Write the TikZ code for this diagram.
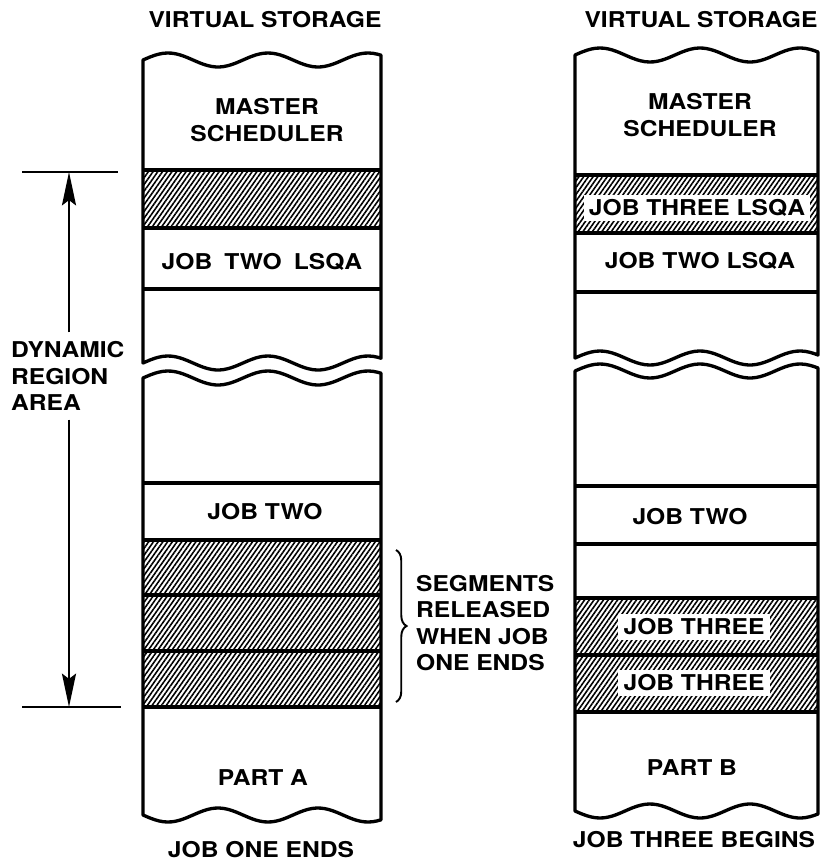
\documentclass[tikz,border=0pt]{standalone}
\usepackage{fontspec}
\newfontfamily\vsfont[FakeStretch=1.13]{TeX Gyre Heros}
\usepackage{tikz}
\usetikzlibrary{arrows.meta,patterns.meta,decorations.pathreplacing,positioning}
\tikzset{
    vslabel/.style={font=\vsfont\bfseries\fontsize{12.4}{15}\selectfont, inner sep=1pt},
    whitelabel/.style={vslabel, fill=white, inner xsep=3pt, inner ysep=2.5pt},
    hatch/.style={pattern={Lines[angle=55, distance=2.2pt, line width=0.9pt]}},
    wall/.style={line width=1.9pt, line join=round},
    sepline/.style={line width=1.9pt},
    dimline/.style={line width=1.6pt},
    dimarrow/.style={line width=1.2pt, -{Stealth[length=19pt, width=8pt, inset=3pt]}},
    bracket/.style={line width=1.1pt, decorate, decoration={brace, amplitude=6pt}},
}
% one piece of a storage column: x1, x2, top y, bottom y, top phase, bottom phase
\newcommand{\memseg}[6]{%
    \draw[wall] (#1,{#3+7*sin(#5)}) -- (#1,{#4+7*sin(#6)})
        -- plot[domain=#1:#2, samples=60, smooth] (\x,{#4+7*sin(3.6*(\x-#1)+#6)})
        -- plot[domain=#2:#1, samples=60, smooth] (\x,{#3+7*sin(3.6*(\x-#1)+#5)})
        -- cycle;}

\begin{document}
\begin{tikzpicture}[x=0.02cm, y=-0.02cm]
    \useasboundingbox (0,0) rectangle (825,862);

    % hatched segments
    \fill[hatch] (143,170) rectangle (381,228);
    \fill[hatch] (143,540) rectangle (381,707);
    \fill[hatch] (575,175) rectangle (818,233);
    \fill[hatch] (575,598) rectangle (818,712);

    % left column (job one ends)
    \memseg{143}{381}{60}{363}{180}{180}
    \memseg{143}{381}{378}{815}{180}{0}
    \foreach \y in {170,228,289,483,540,595,651,707} {
        \draw[sepline] (143,\y) -- (381,\y);
    }

    % right column (job three begins)
    \memseg{575}{818}{55}{358}{180}{180}
    \memseg{575}{818}{371}{811}{180}{0}
    \foreach \y in {175,233,292,486,544,598,655,712} {
        \draw[sepline] (575,\y) -- (818,\y);
    }

    % column titles and captions
    \node[vslabel] (vsA) at (265,20) {VIRTUAL STORAGE};
    \node[vslabel] (vsB) at (701,20) {VIRTUAL STORAGE};
    \node[vslabel] (capA) at (261,850) {JOB ONE ENDS};
    \node[vslabel] (capB) at (694,840) {JOB THREE BEGINS};

    % left column texts
    \node[vslabel, align=center] (msA) at (267,120) {MASTER\\SCHEDULER};
    \node[vslabel] (lsqaA) at (262,262) {JOB\hspace{0.55em}TWO\hspace{0.55em}LSQA};
    \node[vslabel] (jobtwoA) at (265,512) {JOB TWO};
    \node[vslabel] (partA) at (263,778) {PART A};

    % right column texts
    \node[vslabel, align=center] (msB) at (700,115) {MASTER\\SCHEDULER};
    \node[whitelabel] (lsqaC) at (697,208) {JOB THREE LSQA};
    \node[vslabel] (lsqaB) at (700,261) {JOB TWO LSQA};
    \node[vslabel] (jobtwoB) at (690,517) {JOB TWO};
    \node[whitelabel] (jobthreeA) at (694,627) {JOB THREE};
    \node[whitelabel] (jobthreeB) at (694,683) {JOB THREE};
    \node[vslabel] (partB) at (692,768) {PART B};

    % dynamic region area
    \coordinate (dtop) at (69,172);
    \coordinate (dbot) at (69,707);
    \coordinate (dtopL) at (22,172);
    \coordinate (dtopR) at (118,172);
    \coordinate (dbotL) at (22,707);
    \coordinate (dbotR) at (121,707);
    \draw[dimline] (dtopL) -- (dtopR);
    \draw[dimline] (dbotL) -- (dbotR);
    \node[vslabel, align=left, anchor=west] (dra) at (9,376) {DYNAMIC\\REGION\\AREA};
    \draw[dimarrow] ([yshift=4pt]dra.north -| dtop) -- (dtop);
    \draw[dimarrow] ([yshift=-4pt]dra.south -| dbot) -- (dbot);

    % released segments
    \coordinate (brtop) at (396,550);
    \coordinate (brbot) at (396,702);
    \draw[bracket] (brtop) -- (brbot);
    \node[vslabel, align=left, anchor=west] (seg) at (414,623) {SEGMENTS\\RELEASED\\WHEN JOB\\ONE ENDS};
\end{tikzpicture}
\end{document}
